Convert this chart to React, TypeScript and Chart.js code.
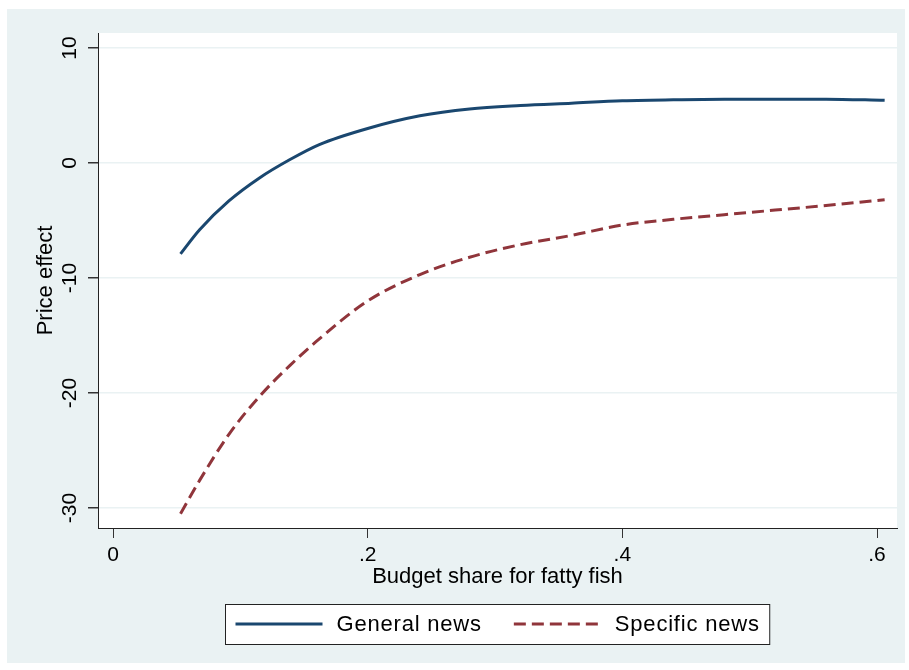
import React, { useEffect, useRef } from 'react';
import { Chart, registerables } from 'chart.js';

Chart.register(...registerables);

// ---- Data ----
const budgetShare = [0.053, 0.068, 0.091, 0.115, 0.139, 0.162, 0.2, 0.241, 0.28, 0.32, 0.36, 0.4, 0.44, 0.48, 0.52, 0.56, 0.606];
const generalNews = [-7.9, -5.8, -3.3, -1.3, 0.3, 1.6, 3.0, 4.1, 4.7, 5.0, 5.2, 5.4, 5.5, 5.55, 5.55, 5.55, 5.45];
const specificNews = [-30.5, -27.6, -23.6, -20.3, -17.6, -15.3, -12.0, -9.7, -8.2, -7.1, -6.3, -5.4, -4.9, -4.5, -4.1, -3.7, -3.2];

const seriesLabels = ['General news', 'Specific news'];
const yTickValues = [-30, -20, -10, 0, 10];
const xTickValues = [0, 0.2, 0.4, 0.6];
const xTickLabels = ['0', '.2', '.4', '.6'];
const xTitle = 'Budget share for fatty fish';
const yTitle = 'Price effect';

const X_MIN = -0.0118;
const X_MAX = 0.6157;
const Y_MIN = -31.74;
const Y_MAX = 11.3;

const FONT = '"Liberation Sans", Arial, sans-serif';
const BG = '#EAF2F3';
const NAVY = '#1A476F';
const MAROON = '#90353B';

const backgroundPlugin = {
  id: 'stataBackground',
  beforeDraw(chart: any) {
    const { ctx, chartArea: ca, width, height } = chart;
    ctx.save();
    ctx.fillStyle = '#FFFFFF';
    ctx.fillRect(0, 0, width, height);
    ctx.fillStyle = BG;
    ctx.fillRect(7, 9, 898, 654);
    ctx.fillStyle = '#FFFFFF';
    ctx.fillRect(ca.left, ca.top, ca.right - ca.left, ca.bottom - ca.top);
    ctx.restore();
  },
};

const legendPlugin = {
  id: 'stataLegend',
  afterDraw(chart: any) {
    const { ctx, chartArea: ca } = chart;
    ctx.save();
    ctx.font = `22px ${FONT}`;
    try { (ctx as any).letterSpacing = '0.8px'; } catch (e) { /* ignore */ }
    const sample = 87;
    const gapText = 14;
    const gapItem = 32;
    const pad = 10;
    const items = chart.data.datasets.map((ds: any) => ({
      label: ds.label,
      color: ds.borderColor,
      dash: ds.borderDash || [],
      lw: ds.borderWidth,
      w: ctx.measureText(ds.label).width,
    }));
    let content = 0;
    items.forEach((it: any, i: number) => {
      content += sample + gapText + it.w + (i > 0 ? gapItem : 0);
    });
    const boxW = content + 2 * pad;
    const cx = (ca.left + ca.right) / 2;
    const left = Math.round(cx - boxW / 2) + 0.5;
    const top = 604.5;
    const h = 40;
    ctx.fillStyle = '#FFFFFF';
    ctx.fillRect(left, top, boxW, h);
    ctx.strokeStyle = '#222';
    ctx.lineWidth = 1;
    ctx.setLineDash([]);
    ctx.strokeRect(left, top, boxW, h);

    let x = left + pad;
    const ly = 624;
    items.forEach((it: any, i: number) => {
      if (i > 0) x += gapItem;
      ctx.beginPath();
      ctx.strokeStyle = it.color;
      ctx.lineWidth = it.lw;
      ctx.setLineDash(it.dash);
      ctx.moveTo(x, ly);
      ctx.lineTo(x + sample, ly);
      ctx.stroke();
      ctx.setLineDash([]);
      x += sample + gapText;
      ctx.fillStyle = '#000';
      ctx.textAlign = 'left';
      ctx.textBaseline = 'middle';
      ctx.fillText(it.label, x, ly + 1);
      x += it.w;
    });
    ctx.restore();
  },
};

export default function App() {
  const canvasRef = useRef<HTMLCanvasElement | null>(null);

  useEffect(() => {
    if (!canvasRef.current) return;
    const chart = new Chart(canvasRef.current, {
      type: 'line',
      data: {
        datasets: [
          {
            label: seriesLabels[0],
            data: budgetShare.map((x, i) => ({ x, y: generalNews[i] })),
            borderColor: NAVY,
            backgroundColor: NAVY,
            borderWidth: 3,
            pointRadius: 0,
            cubicInterpolationMode: 'monotone',
            fill: false,
          },
          {
            label: seriesLabels[1],
            data: budgetShare.map((x, i) => ({ x, y: specificNews[i] })),
            borderColor: MAROON,
            backgroundColor: MAROON,
            borderWidth: 3,
            borderDash: [12, 6],
            pointRadius: 0,
            cubicInterpolationMode: 'monotone',
            fill: false,
          },
        ],
      },
      options: {
        responsive: false,
        animation: false,
        devicePixelRatio: 1,
        layout: { padding: { left: 0, top: 33, right: 12, bottom: 0 } },
        plugins: {
          legend: { display: false },
          tooltip: { enabled: false },
        },
        scales: {
          x: {
            type: 'linear',
            min: X_MIN,
            max: X_MAX,
            afterBuildTicks: (s: any) => {
              s.ticks = xTickValues.map((v) => ({ value: v }));
            },
            afterFit: (s: any) => {
              s.height = 142;
            },
            ticks: {
              autoSkip: false,
              maxRotation: 0,
              minRotation: 0,
              padding: 5,
              color: '#000',
              font: { family: FONT, size: 21 },
              callback: (_v: any, i: number) => xTickLabels[i],
            },
            grid: {
              color: 'rgba(0,0,0,0)',
              tickColor: '#333',
              tickLength: 10,
              lineWidth: 1,
            },
            border: { display: true, color: '#222', width: 1 },
            title: {
              display: true,
              text: xTitle,
              color: '#000',
              font: { family: FONT, size: 22 },
              padding: { top: 0, bottom: 80 },
            },
          },
          y: {
            type: 'linear',
            min: Y_MIN,
            max: Y_MAX,
            afterBuildTicks: (s: any) => {
              s.ticks = yTickValues.map((v) => ({ value: v }));
            },
            afterFit: (s: any) => {
              s.width = 98;
            },
            ticks: {
              autoSkip: false,
              minRotation: 90,
              maxRotation: 90,
              crossAlign: 'center',
              padding: 3,
              color: '#000',
              font: { family: FONT, size: 21 },
              callback: (v: any) => String(v),
            },
            grid: {
              color: BG,
              tickColor: '#333',
              tickLength: 10,
              lineWidth: 1.5,
            },
            border: { display: true, color: '#222', width: 1 },
            title: {
              display: true,
              text: yTitle,
              color: '#000',
              font: { family: FONT, size: 22 },
              padding: { top: 33, bottom: 0 },
            },
          },
        },
      },
      plugins: [backgroundPlugin, legendPlugin],
    } as any);
    return () => chart.destroy();
  }, []);

  return (
    <div style={{ position: 'absolute', left: 0, top: 0, width: 909, height: 670 }}>
      <canvas ref={canvasRef} width={909} height={670} style={{ display: 'block' }} />
    </div>
  );
}
